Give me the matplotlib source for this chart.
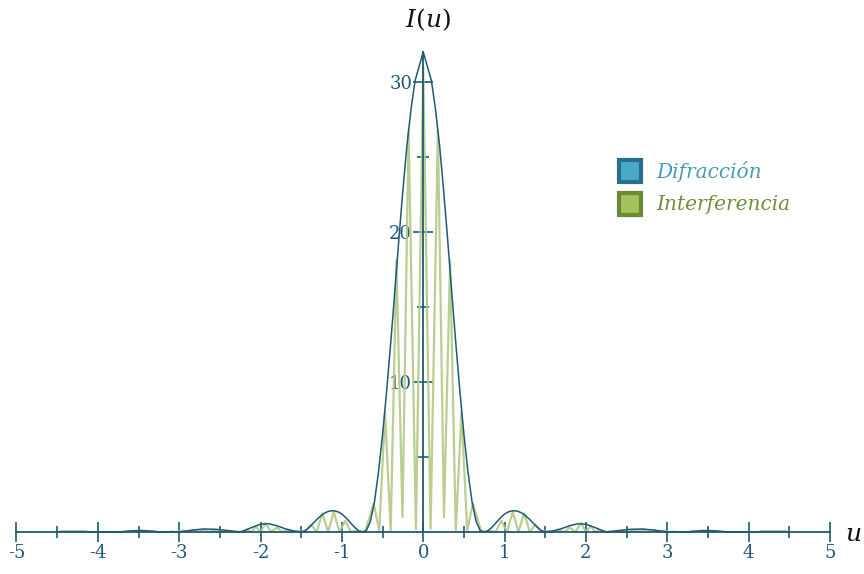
import numpy as np
import matplotlib.pyplot as plt
from matplotlib.patches import Rectangle

plt.rcParams['axes.unicode_minus'] = False
plt.rcParams['mathtext.fontset'] = 'dejavuserif'

# envelope (diffraction), u >= 0 (curve is symmetric)
env_u = [0.00, 0.10, 0.15, 0.20, 0.25, 0.30, 0.35, 0.40, 0.45, 0.50,
         0.55, 0.60, 0.65, 0.70, 0.75, 0.80, 0.85, 0.90, 0.95, 1.00, 1.05,
         1.10, 1.15, 1.20, 1.25, 1.30, 1.35, 1.40, 1.45, 1.50, 1.60, 1.70,
         1.80, 1.90, 2.00, 2.10, 2.20, 2.25, 2.40, 2.55, 2.70, 2.85, 3.00,
         3.25, 3.30, 3.45, 3.60, 3.75, 4.10, 4.15, 4.45, 4.50]
env_I = [32.0, 30.1, 28.2, 25.8, 22.8, 19.5, 16.0, 12.6, 9.4, 6.5,
         4.0, 2.0, 0.7, 0.1, 0.0, 0.1, 0.35, 0.65, 0.95, 1.2, 1.35,
         1.42, 1.40, 1.30, 1.12, 0.88, 0.6, 0.32, 0.1, 0.0, 0.08, 0.22,
         0.42, 0.55, 0.52, 0.32, 0.1, 0.0, 0.1, 0.18, 0.2, 0.12, 0.0,
         0.0, 0.05, 0.1, 0.08, 0.0, 0.0, 0.04, 0.04, 0.0]

# interference fringes: peaks and the troughs that follow them, u >= 0
peak_u = [0.0, 0.18, 0.33, 0.47, 0.61, 0.82, 0.96, 1.10, 1.24, 1.38, 1.53,
          1.66, 1.80, 1.94, 2.06, 2.16, 2.30, 2.44, 2.58, 2.70, 2.82, 2.95, 3.10]
peak_I = [31.0, 26.8, 18.1, 8.0, 1.9, 0.08, 0.75, 1.35, 1.25, 0.5, 0.05,
          0.15, 0.3, 0.6, 0.4, 0.15, 0.03, 0.05, 0.12, 0.18, 0.15, 0.1, 0.03]
trough_I = [0.2, 1.0, 0.1, 0.1, 0.0, 0.0, 0.0, 0.0, 0.0, 0.0, 0.0,
            0.0, 0.0, 0.0, 0.0, 0.0, 0.0, 0.0, 0.0, 0.0, 0.0, 0.0]

xticks = [-5, -4, -3, -2, -1, 0, 1, 2, 3, 4, 5]
yticks = [10, 20, 30]

teal = '#1d5a75'
green = '#b3c985'

# build full symmetric curves
eu = np.array(env_u)
ei = np.array(env_I)
env_x = np.concatenate([-eu[::-1], eu[1:]])
env_y = np.concatenate([ei[::-1], ei[1:]])

pu = np.array(peak_u)
pi_ = np.array(peak_I)
ti = np.array(trough_I)
half_x = []
half_y = []
for k in range(len(pu)):
    half_x.append(pu[k])
    half_y.append(pi_[k])
    if k < len(ti) and k + 1 < len(pu):
        half_x.append((pu[k] + pu[k + 1]) / 2)
        half_y.append(ti[k])
half_x = np.array(half_x)
half_y = np.array(half_y)
int_x = np.concatenate([-half_x[::-1], half_x[1:]])
int_y = np.concatenate([half_y[::-1], half_y[1:]])

fig = plt.figure(figsize=(8.64, 5.74), dpi=100)
ax = fig.add_axes([16.5 / 864, 37.5 / 574, 813.5 / 864, 489 / 574])

ax.plot(int_x, int_y, color=green, lw=1.6, alpha=0.9, zorder=2)
ax.plot(env_x, env_y, color=teal, lw=1.1, zorder=3)

ax.set_xlim(-5, 5)
ax.set_ylim(-0.3, 32.3)

for s in ['top', 'right']:
    ax.spines[s].set_visible(False)
ax.spines['left'].set_position(('data', 0))
ax.spines['bottom'].set_position(('data', 0))
ax.spines['left'].set_color(teal)
ax.spines['bottom'].set_color(teal)
ax.spines['left'].set_linewidth(1.3)
ax.spines['bottom'].set_linewidth(1.3)
ax.spines['left'].set_bounds(0, 32.0)

ax.set_xticks(xticks)
ax.set_xticklabels([str(t) for t in xticks])
ax.set_xticks(np.arange(-4.5, 5, 1.0), minor=True)
ax.set_yticks(yticks)
ax.set_yticklabels([str(t) for t in yticks])
ax.set_yticks([5, 15, 25], minor=True)

ax.tick_params(which='major', direction='inout', length=14, width=1.2,
               color=teal, labelcolor=teal, labelsize=13)
ax.tick_params(which='minor', direction='inout', length=8, width=1.2, color=teal)
ax.tick_params(axis='x', which='major', pad=2)
ax.tick_params(axis='y', which='major', pad=1)
for lab in ax.get_xticklabels() + ax.get_yticklabels():
    lab.set_fontfamily('DejaVu Serif')

fig.text(428 / 864, 1 - 20 / 574, r'$I(u)$', ha='center', va='center',
         fontsize=18, color='#111111')
fig.text(853 / 864, 1 - 534 / 574, r'$u$', ha='center', va='center',
         fontsize=18, color='#111111')

# legend
fig.patches.append(Rectangle((619 / 864, 1 - 182 / 574), 22 / 864, 22 / 574,
                             transform=fig.transFigure, facecolor='#4aa9c8',
                             edgecolor='#2b6e8c', lw=3, zorder=5))
fig.patches.append(Rectangle((619 / 864, 1 - 215 / 574), 22 / 864, 22 / 574,
                             transform=fig.transFigure, facecolor='#a5c25c',
                             edgecolor='#6b8a36', lw=3, zorder=5))
fig.text(656 / 864, 1 - 171 / 574, 'Difracción', ha='left', va='center',
         fontsize=14.5, family='DejaVu Serif', style='italic', color='#4a9bb9')
fig.text(656 / 864, 1 - 204 / 574, 'Interferencia', ha='left', va='center',
         fontsize=14.5, family='DejaVu Serif', style='italic', color='#6f8f3a')

fig.savefig('out.png', dpi=100)
